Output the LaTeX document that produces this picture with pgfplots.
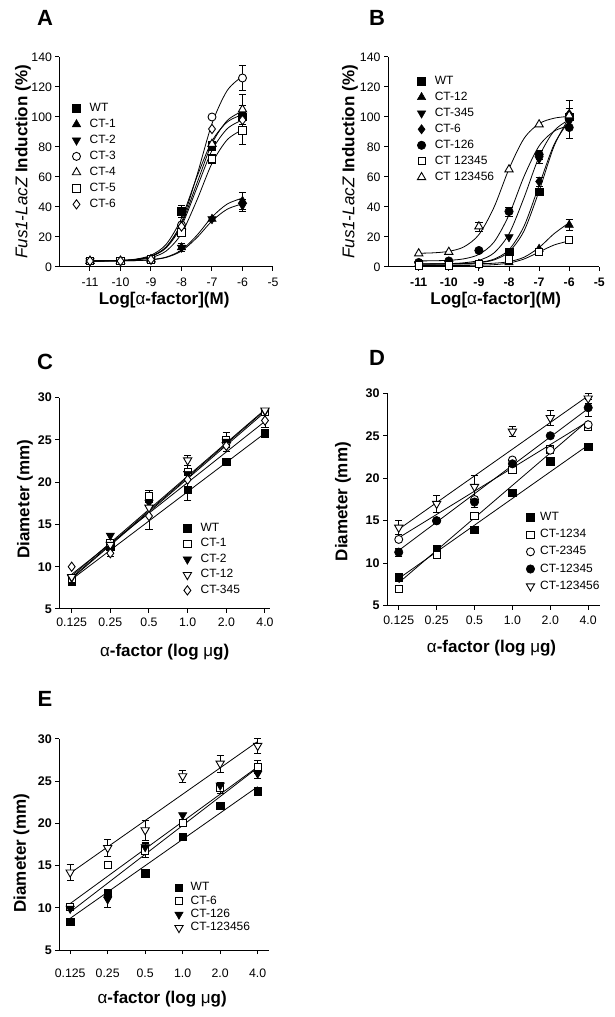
\documentclass[border=0pt]{standalone}
\usepackage{fontspec}
\setmainfont{Liberation Sans}
\usepackage{pgfplots}
\pgfplotsset{compat=1.18}

\newcommand{\tkf}{\fontsize{12.3}{14}\selectfont}
\newcommand{\lgf}{\fontsize{12}{14}\selectfont}
\newcommand{\lbf}{\fontsize{17}{19}\selectfont\bfseries}

\pgfplotsset{
  panel/.style={scale only axis, axis x line*=bottom, axis y line*=left,
    axis line style={-, line width=1pt}, tick align=outside,
    major tick length=4pt, tick style={line width=1pt, black},
    clip=false, legend cell align=left,
    tick label style={font=\tkf},
    legend style={draw=none, fill=none, inner sep=0pt, anchor=north west,
      font=\lgf, nodes={inner sep=1pt, text height=8.3pt, text depth=2.2pt}}},
  lgap/.style={legend image code/.code={\path (0pt,0pt) (#1,0pt);
      \draw[mark repeat=2,mark phase=2,##1] plot coordinates {(0pt,0pt) (4pt,0pt) (8pt,0pt)};}},
  fsq/.style={only marks, mark=square*, mark size=3.8pt, mark options={fill=black, draw=black, line width=0.6pt}},
  osq/.style={only marks, mark=square*, mark size=3.6pt, mark options={fill=white, draw=black, line width=0.9pt}},
  ftu/.style={only marks, mark=triangle*, mark size=4.8pt, mark options={fill=black, draw=black, line width=0.6pt}},
  ftd/.style={only marks, mark=triangle*, mark size=4.8pt, mark options={rotate=180, fill=black, draw=black, line width=0.6pt}},
  otu/.style={only marks, mark=triangle*, mark size=4.8pt, mark options={fill=white, draw=black, line width=0.9pt}},
  otd/.style={only marks, mark=triangle*, mark size=4.8pt, mark options={rotate=180, fill=white, draw=black, line width=0.9pt}},
  fci/.style={only marks, mark=*, mark size=4.2pt, mark options={fill=black, draw=black, line width=0.6pt}},
  oci/.style={only marks, mark=*, mark size=4.0pt, mark options={fill=white, draw=black, line width=0.9pt}},
  fdi/.style={only marks, mark=diamond*, mark size=4.6pt, mark options={fill=black, draw=black, line width=0.6pt}},
  odi/.style={only marks, mark=diamond*, mark size=4.6pt, mark options={fill=white, draw=black, line width=0.9pt}},
  crv/.style={forget plot, smooth, black, line width=0.8pt, mark=none},
  fit/.style={forget plot, black, line width=0.8pt, mark=none},
  eb/.style={forget plot, only marks, mark=none, black,
    error bars/.cd, y dir=both, y explicit,
    error bar style={line width=0.8pt, solid},
    error mark options={rotate=90, mark size=3.6pt, line width=0.8pt}},
  dose/.style={xmin=-12, xmax=-5, ymin=0, ymax=140,
    xtick={-11,-10,-9,-8,-7,-6,-5}, xticklabels={-11,-10,-9,-8,-7,-6,-5},
    ytick={0,20,40,60,80,100,120,140}, yticklabels={0,20,40,60,80,100,120,140},
    xticklabel style={yshift=-3.5pt},
    xlabel={Log[{\mdseries α}-factor](M)},
    ylabel={{\itshape\mdseries Fus1-LacZ} Induction (\%)},
    label style={font=\lbf}},
  halo/.style={ymin=5, ymax=30, xtick={0,1,2,3,4,5},
    xticklabels={0.125,0.25,0.5,1.0,2.0,4.0},
    ytick={5,10,15,20,25,30}, yticklabels={5,10,15,20,25,30},
    yticklabel style={font=\fontsize{12.5}{14}\selectfont\bfseries},
    xlabel={{\mdseries α}-factor (log {\mdseries μ}g)},
    ylabel={Diameter (mm)}, label style={font=\lbf}}
}

\begin{document}
\begin{tikzpicture}
\path (0pt,0pt) rectangle (614pt,1017pt);

% ---------- A ----------
\begin{axis}[panel, dose, at={(59.5pt,750pt)}, anchor=south west,
  width=213.5pt, height=210pt,
  xlabel style={at={(axis description cs:0.49,-0.157)}, anchor=center},
  ylabel style={at={(axis description cs:-0.171,0.5)}, anchor=center},
  lgap=16pt,
  legend style={at={(axis description cs:0.059,0.786)}, row sep=3.5pt}]
\addplot[crv] coordinates {(-11,4.04)(-10.5,4.13)(-10,4.4)(-9.5,5.24)(-9,7.83)(-8.5,15.18)(-8,32.47)(-7.5,59.73)(-7,83.92)(-6.5,96.64)(-6,101.55)};
\addplot[crv] coordinates {(-11,4.01)(-10.5,4.03)(-10,4.09)(-9.5,4.28)(-9,4.86)(-8.5,6.61)(-8,11.32)(-7.5,21.02)(-7,33.31)(-6.5,41.98)(-6,45.9)};
\addplot[crv] coordinates {(-11,4.01)(-10.5,4.03)(-10,4.08)(-9.5,4.25)(-9,4.78)(-8.5,6.38)(-8,10.65)(-7.5,19.48)(-7,30.64)(-6.5,38.53)(-6,42.09)};
\addplot[crv] coordinates {(-11,4.03)(-10.5,4.1)(-10,4.32)(-9.5,5.01)(-9,7.14)(-8.5,13.42)(-8,29.7)(-7.5,60.67)(-7,95.56)(-6.5,117.69)(-6,127.1)};
\addplot[crv] coordinates {(-11,4.03)(-10.5,4.1)(-10,4.32)(-9.5,5.02)(-9,7.16)(-8.5,13.36)(-8,28.75)(-7.5,55.5)(-7,82.25)(-6.5,97.64)(-6,103.84)};
\addplot[crv] coordinates {(-11,4.02)(-10.5,4.07)(-10,4.23)(-9.5,4.72)(-9,6.23)(-8.5,10.7)(-8,22.27)(-7.5,44.29)(-7,69.09)(-6.5,84.83)(-6,91.51)};
\addplot[crv] coordinates {(-11,4.03)(-10.5,4.1)(-10,4.31)(-9.5,4.96)(-9,6.98)(-8.5,12.82)(-8,27.31)(-7.5,52.5)(-7,77.69)(-6.5,92.18)(-6,98.02)};
\addplot[eb] coordinates {(-8,37) +- (0,4) (-7,81) +- (0,3) (-6,100) +- (0,8)
  (-8,13) +- (0,2.5) (-6,44) +- (0,5.5) (-6,41) +- (0,4) (-6,126) +- (0,8.5)
  (-6,105) +- (0,10) (-8,23) +- (0,2) (-7,72) +- (0,3) (-6,91) +- (0,9) (-6,98) +- (0,5)};
\addplot[fsq] coordinates {(-11,4)(-10,4)(-9,5)(-8,37)(-7,81)(-6,100)};
\addplot[ftu] coordinates {(-11,4)(-10,4)(-9,5)(-8,13)(-7,32)(-6,44)};
\addplot[ftd] coordinates {(-11,4)(-10,4)(-9,5)(-8,13)(-7,32)(-6,41)};
\addplot[oci] coordinates {(-11,4)(-10,4)(-9,5)(-8,28)(-7,100)(-6,126)};
\addplot[otu] coordinates {(-11,4)(-10,4)(-9,5)(-8,27)(-7,82)(-6,105)};
\addplot[osq] coordinates {(-11,4)(-10,4)(-9,5)(-8,23)(-7,72)(-6,91)};
\addplot[odi] coordinates {(-11,4)(-10,4)(-9,5)(-8,27)(-7,92)(-6,98)};
\legend{WT,CT-1,CT-2,CT-3,CT-4,CT-5,CT-6}
\end{axis}

% ---------- B ----------
\begin{axis}[panel, dose, at={(388pt,750pt)}, anchor=south west,
  width=211.3pt, height=210pt, xmin=-12.02,
  xticklabel style={font=\tkf\bfseries},
  xlabel style={at={(axis description cs:0.51,-0.157)}, anchor=center},
  ylabel style={at={(axis description cs:-0.18,0.5)}, anchor=center},
  lgap=16pt,
  legend style={at={(axis description cs:0.138,0.915)}, row sep=3.5pt}]
\addplot[crv] coordinates {(-11,2.0)(-10.5,2.03)(-10,2.09)(-9.5,2.28)(-9,2.87)(-8.5,4.7)(-8,10.1)(-7.5,24.09)(-7,50.7)(-6.5,80.68)(-6,99.7)};
\addplot[crv] coordinates {(-11,2.0)(-10.5,2.0)(-10,2.02)(-9.5,2.05)(-9,2.16)(-8.5,2.51)(-8,3.57)(-7.5,6.51)(-7,13.02)(-6.5,22.23)(-6,29.51)};
\addplot[crv] coordinates {(-11,2.03)(-10.5,2.08)(-10,2.25)(-9.5,2.79)(-9,4.45)(-8.5,9.36)(-8,22.08)(-7.5,46.27)(-7,73.53)(-6.5,90.82)(-6,98.17)};
\addplot[crv] coordinates {(-11,2.01)(-10.5,2.03)(-10,2.1)(-9.5,2.33)(-9,3.04)(-8.5,5.22)(-8,11.54)(-7.5,27.23)(-7,54.5)(-6.5,81.77)(-6,97.45)};
\addplot[crv] coordinates {(-11,4.05)(-10.5,4.15)(-10,4.46)(-9.5,5.44)(-9,8.39)(-8.5,16.59)(-8,34.72)(-7.5,60.41)(-7,80.7)(-6.5,90.54)(-6,94.2)};
\addplot[crv] coordinates {(-11,1.0)(-10.5,1.01)(-10,1.02)(-9.5,1.06)(-9,1.18)(-8.5,1.55)(-8,2.64)(-7.5,5.33)(-7,10)(-6.5,14.67)(-6,17.36)};
\addplot[crv] coordinates {(-11,9.15)(-10.5,9.46)(-10,10.44)(-9.5,13.39)(-9,21.59)(-8.5,39.72)(-8,65.41)(-7.5,85.7)(-7,95.54)(-6.5,99.2)(-6,100.42)};
\addplot[eb] coordinates {(-6,100) +- (0,6) (-6,28) +- (0,3.5) (-7,72) +- (0,3)
  (-7,57) +- (0,3) (-6,102) +- (0,9) (-8,37) +- (0,3) (-7,75) +- (0,3)
  (-6,93) +- (0,7) (-9,27) +- (0,3)};
\addplot[fsq] coordinates {(-11,2)(-10,2)(-9,2)(-8,10)(-7,50)(-6,100)};
\addplot[ftu] coordinates {(-11,2)(-10,2)(-9,2)(-8,3)(-7,12)(-6,28)};
\addplot[ftd] coordinates {(-11,2)(-10,2)(-9,2)(-8,20)(-7,72)(-6,97)};
\addplot[fdi] coordinates {(-11,2)(-10,2)(-9,2)(-8,8)(-7,57)(-6,102)};
\addplot[fci] coordinates {(-11,3)(-10,4)(-9,11)(-8,37)(-7,75)(-6,93)};
\addplot[osq] coordinates {(-11,1)(-10,1)(-9,2)(-8,5)(-7,10)(-6,18)};
\addplot[otu] coordinates {(-11,9)(-10,10)(-9,27)(-8,65)(-7,95)(-6,101)};
\legend{WT,CT-12,CT-345,CT-6,CT-126,CT 12345,CT 123456}
\end{axis}

% ---------- C ----------
\begin{axis}[panel, halo, at={(59.3pt,408pt)}, anchor=south west,
  width=210.7pt, height=211.3pt, xmin=-0.32, xmax=5.13,
  xticklabel style={yshift=-1pt},
  xlabel style={at={(axis description cs:0.5,-0.203)}, anchor=center},
  ylabel style={at={(axis description cs:-0.163,0.52)}, anchor=center},
  lgap=16pt,
  legend style={at={(axis description cs:0.587,0.412)}, row sep=3pt}]
\addplot[fit] coordinates {(0,8.5)(5,25.8)};
\addplot[fit] coordinates {(0,8.7)(5,28.5)};
\addplot[fit] coordinates {(0,8.9)(5,28.6)};
\addplot[fit] coordinates {(0,8.6)(5,28.3)};
\addplot[fit] coordinates {(0,9.1)(5,27.2)};
\addplot[eb] coordinates {(2,18.1) +- (0,0.9) (3,19.1) +- (0,1.2) (3,21.2) +- (0,0.8)
  (4,25.0) +- (0,0.9) (3,22.6) +- (0,0.6) (4,24.4) +- (0,0.7) (1,11.6) +- (0,0.4)
  (2,16.0) +- (0,1.6) (5,27.3) +- (0,0.8)};
\addplot[fsq] coordinates {(0,8.2)(1,12.4)(2,18.1)(3,19.1)(4,22.4)(5,25.8)};
\addplot[osq] coordinates {(0,8.6)(1,12.8)(2,18.4)(3,21.2)(4,25.0)(5,28.3)};
\addplot[ftd] coordinates {(0,8.7)(1,13.7)(2,17.6)(3,21.0)(4,24.8)(5,28.4)};
\addplot[otd] coordinates {(0,8.8)(1,12.6)(2,17.0)(3,22.6)(4,24.4)(5,28.5)};
\addplot[odi] coordinates {(0,10.0)(1,11.6)(2,16.0)(3,20.3)(4,24.3)(5,27.3)};
\legend{WT,CT-1,CT-2,CT-12,CT-345}
\end{axis}

% ---------- D ----------
\begin{axis}[panel, halo, at={(387pt,411.3pt)}, anchor=south west,
  width=213.3pt, height=212.4pt, xmin=-0.31, xmax=5.32,
  xticklabel style={yshift=-3pt},
  xlabel style={at={(axis description cs:0.49,-0.199)}, anchor=center},
  ylabel style={at={(axis description cs:-0.206,0.49)}, anchor=center},
  lgap=12.5pt,
  legend style={at={(axis description cs:0.652,0.446)}, row sep=4.7pt}]
\addplot[fit] coordinates {(0,8.2)(5,23.9)};
\addplot[fit] coordinates {(0,7.7)(5,26.8)};
\addplot[fit] coordinates {(0,13.0)(5,26.7)};
\addplot[fit] coordinates {(0,11.5)(5,28.2)};
\addplot[fit] coordinates {(0,14.0)(5,29.7)};
\addplot[eb] coordinates {(0,11.3) +- (0,0.5) (2,17.2) +- (0,0.6) (5,28.3) +- (0,1)
  (0,14.2) +- (0,0.8) (1,17.0) +- (0,1) (2,19.0) +- (0,1.3) (3,25.5) +- (0,0.6)
  (4,27.1) +- (0,0.9) (5,29.4) +- (0,0.6)};
\addplot[fsq] coordinates {(0,8.35)(1,11.7)(2,13.95)(3,18.3)(4,22.0)(5,23.7)};
\addplot[osq] coordinates {(0,7.0)(1,11.0)(2,15.6)(3,21.0)(4,23.4)(5,26.0)};
\addplot[oci] coordinates {(0,12.8)(1,15.0)(2,17.5)(3,22.15)(4,23.3)(5,26.3)};
\addplot[fci] coordinates {(0,11.3)(1,15.0)(2,17.2)(3,21.7)(4,25.0)(5,28.3)};
\addplot[otd] coordinates {(0,14.2)(1,17.0)(2,19.0)(3,25.5)(4,27.1)(5,29.4)};
\legend{WT,CT-1234,CT-2345,CT-12345,CT-123456}
\end{axis}

% ---------- E ----------
\begin{axis}[panel, halo, at={(59.3pt,67pt)}, anchor=south west,
  width=210pt, height=211pt, xmin=-0.29, xmax=5.31,
  xticklabel style={yshift=-11pt},
  xlabel style={at={(axis description cs:0.49,-0.232)}, anchor=center},
  ylabel style={at={(axis description cs:-0.18,0.46)}, anchor=center},
  lgap=14.5pt,
  legend style={at={(axis description cs:0.549,0.326)}, row sep=0.9pt}]
\addplot[fit] coordinates {(0,8.75)(5,24.35)};
\addplot[fit] coordinates {(0,10.5)(5,26.7)};
\addplot[fit] coordinates {(0,9.5)(5,26.6)};
\addplot[fit] coordinates {(0,14.1)(5,29.7)};
\addplot[eb] coordinates {(2,16.8) +- (0,0.8) (4,24.2) +- (0,0.7) (5,26.7) +- (0,0.8)
  (1,11.0) +- (0,0.9) (2,17.2) +- (0,0.6) (5,25.9) +- (0,0.6)
  (0,14.2) +- (0,1) (1,17.1) +- (0,1) (2,19.2) +- (0,1.2) (3,25.6) +- (0,0.7)
  (4,27.1) +- (0,1) (5,29.2) +- (0,0.9)};
\addplot[fsq] coordinates {(0,8.35)(1,11.8)(2,14.1)(3,18.4)(4,22.1)(5,23.8)};
\addplot[osq] coordinates {(0,10.1)(1,15.1)(2,16.8)(3,20.1)(4,24.2)(5,26.7)};
\addplot[ftd] coordinates {(0,9.9)(1,11.0)(2,17.2)(3,21.0)(4,24.5)(5,25.9)};
\addplot[otd] coordinates {(0,14.2)(1,17.1)(2,19.2)(3,25.6)(4,27.1)(5,29.2)};
\legend{WT,CT-6,CT-126,CT-123456}
\end{axis}

% panel letters
\node[font=\fontsize{22}{24}\selectfont\bfseries] at (45pt,999pt) {A};
\node[font=\fontsize{22}{24}\selectfont\bfseries] at (377pt,999pt) {B};
\node[font=\fontsize{22}{24}\selectfont\bfseries] at (45pt,655pt) {C};
\node[font=\fontsize{22}{24}\selectfont\bfseries] at (377pt,659pt) {D};
\node[font=\fontsize{22}{24}\selectfont\bfseries] at (45pt,318pt) {E};
\end{tikzpicture}
\end{document}
